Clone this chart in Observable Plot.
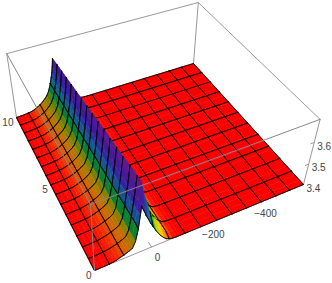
<!DOCTYPE html>
<html><head><meta charset="utf-8">
<script src="https://cdn.jsdelivr.net/npm/d3@7"></script>
<script src="https://cdn.jsdelivr.net/npm/@observablehq/plot@0.6"></script>
<style>html,body{margin:0;padding:0;background:#fff}svg{display:block}</style>
</head><body><div id="chart"></div>
<script>
// Columns of the surface (x axis, descending from the near corner)
const xRidge = [190,175,159,142,128,117,105,94,82,74,65,55,46,40,36,32,28,24,21,13,5,-3,-14,-29,-41,-51,-61,-72,-87,-99];
const xFlat = [-118,-176,-234,-292,-349,-407,-465,-522,-580];
const xMesh = [190,142,94,46,-3,-61,-118,-176,-234,-292,-349,-407,-465,-522,-580];
// Rows of the surface (y axis)
const yRows = [0,0.3,0.625,0.91,1.25,1.82,1.875,2.5,2.73,3.125,3.64,3.75,4.375,4.55,5,5.45,5.625,6.25,6.36,6.875,7.27,7.5,8.125,8.18,8.75,9.09,9.375,10];
const rowBlend = [0,0,0.03,0.06,0.1,0.157,0.16,0.227,0.25,0.29,0.34,0.356,0.42,0.44,0.484,0.53,0.55,0.61,0.625,0.68,0.72,0.74,0.807,0.81,0.87,0.906,0.936,1];
// Mesh lines along x: left of the ridge and on the plane beyond it
const yMeshLeft = [0,0.625,1.25,1.875,2.5,3.125,3.75,4.375,5,5.625,6.25,6.875,7.5,8.125,8.75,9.375,10];
const yMeshRight = [0,0.91,1.82,2.73,3.64,4.55,5.45,6.36,7.27,8.18,9.09,10];
const meshSplitX = -29;
// Heights read along the ridge
const zEdge = [3.4,3.4003,3.4006,3.4015,3.4036,3.4066,3.412,3.4165,3.4225,3.427,3.433,3.46,3.514,3.574,3.613,3.598,3.586,3.574,3.562,3.541,3.517,3.499,3.472,3.442,3.424,3.412,3.406,3.4015,3.4,3.4];
const zNear = [3.4,3.4003,3.4009,3.4024,3.4048,3.4078,3.412,3.4165,3.4225,3.427,3.4345,3.46,3.52,3.574,3.61,3.652,3.691,3.664,3.64,3.61,3.574,3.541,3.508,3.478,3.451,3.43,3.418,3.406,3.401,3.4];
const zFar = [3.4,3.4006,3.4018,3.4042,3.4072,3.412,3.4195,3.427,3.439,3.448,3.46,3.481,3.514,3.541,3.562,3.589,3.625,3.598,3.58,3.55,3.523,3.502,3.472,3.442,3.424,3.415,3.4075,3.4024,3.4003,3.4];
const zBase = 3.4;
// Box ranges
const xRange = [190,-580], yRange = [0,10], zRange = [3.4,3.7];
// Tick labels
const xTicks = [0,-200,-400];
const yTicks = [0,5,10];
const zTicks = [3.4,3.5,3.6];
// Colours by height
const hueHeights = [3.4,3.408,3.42,3.44,3.466,3.49,3.52,3.55,3.595,3.655,3.7];
const litColors = ["#ff0000","#f42800","#d86000","#a87c00","#5f8400","#0a8030","#0a7078","#1a4a98","#3a1aa0","#5a1a90","#6a1a88"];
const sunColors = ["#ff0000","#ff3a00","#ff8000","#ffc000","#ffe000","#70c800","#00a050","#0a8090","#2040a0","#4020a0","#5020a0"];

// Camera: fixed perspective of the box
function project(x, y, z) {
  const u = (xRange[0]-x)/(xRange[0]-xRange[1]);
  const v = y/yRange[1];
  const w = (z-zRange[0])/(zRange[1]-zRange[0]);
  const d = 0.14388*u + 0.27021*v - 0.1*w + 1;
  return [(252.6*u - 73.68*v - 13*w + 94)/d, (-59.53*u - 121.39*v - 86.4*w + 270)/d];
}
const xs = [...xRidge, ...xFlat];
const zAt = (j,i) => {
  if (i >= xRidge.length) return zBase;
  if (j === 0) return zEdge[i];
  return zNear[i] + (zFar[i]-zNear[i])*rowBlend[j];
};
const litScale = d3.scaleLinear().domain(hueHeights).range(litColors).clamp(true);
const sunScale = d3.scaleLinear().domain(hueHeights).range(sunColors).clamp(true);

const pieces = [];
let id = 0;
function addPiece(pts, fill, stroke, sw) {
  id++;
  for (const [x,y,z] of pts) {
    const [px,py] = project(x,y,z);
    pieces.push({id, px, py, fill, stroke, sw});
  }
}
for (let j = yRows.length-2; j >= 0; j--) {
  for (let i = xs.length-2; i >= 0; i--) {
    const a=[xs[i],yRows[j],zAt(j,i)], b=[xs[i+1],yRows[j],zAt(j,i+1)],
          c=[xs[i+1],yRows[j+1],zAt(j+1,i+1)], e=[xs[i],yRows[j+1],zAt(j+1,i)];
    const mean=(a[2]+b[2]+c[2]+e[2])/4;
    const falling = (b[2]+c[2])<(a[2]+e[2])-1e-6;
    const col = falling ? sunScale(mean) : litScale(mean);
    addPiece([a,b,c,e], col, col, 0.5);
    const mk="#000";
    const yMesh = xs[i] > meshSplitX ? yMeshLeft : yMeshRight;
    if (yMesh.includes(yRows[j])) addPiece([a,b],"none",mk,0.6);
    if (yMesh.includes(yRows[j+1])) addPiece([e,c],"none",mk,0.6);
    if (xMesh.includes(xs[i])) addPiece([a,e],"none",mk,0.6);
    if (xMesh.includes(xs[i+1])) addPiece([b,c],"none",mk,0.6);
  }
}
const [x0,x1]=xRange,[y0,y1]=yRange,[z0,z1]=zRange;
const backEdges=[[[x0,y1,z0],[x0,y1,z1]],[[x0,y1,z1],[x1,y1,z1]],[[x1,y1,z1],[x1,y0,z1]],[[x1,y1,z0],[x1,y1,z1]],[[x1,y0,z0],[x1,y0,z1]],
  [[x0,y0,z0],[x1,y0,z0]],[[x0,y0,z0],[x0,y1,z0]],
  ...xTicks.map(t=>[[t,y0,z0],[t,0.25,z0]]),
  ...zTicks.slice(1).map(t=>[[x1,y0,t],[x1+14,y0,t]])];
const frontEdges=[[[x0,y0,z0],[x0,y0,z1]],[[x0,y0,z1],[x0,y1,z1]],[[x0,y0,z1],[x1,y0,z1]]];
const toSeg=(list)=>list.flatMap((s,k)=>s.map(p=>{const [px,py]=project(...p);return {k,px,py};}));
const pt=(a,lab)=>{const [px,py]=project(...a);return {px,py,lab};};
const fmt=d=>String(d).replace("-","\u2212");
const textOpts={x:"px",y:"py",text:"lab",fontFamily:"Liberation Sans",fontSize:10,fill:"#444"};

const chart = Plot.plot({
  width:332,height:283,margin:0,
  x:{domain:[0,332],axis:null},
  y:{domain:[283,0],axis:null},
  style:{background:"#fff"},
  marks:[
    Plot.line(toSeg(backEdges),{x:"px",y:"py",z:"k",stroke:"#999",strokeWidth:1}),
    Plot.line(pieces,{x:"px",y:"py",z:"id",fill:"fill",stroke:"stroke",strokeWidth:"sw",curve:"linear-closed"}),
    Plot.line(toSeg(frontEdges),{x:"px",y:"py",z:"k",stroke:"#888",strokeWidth:1}),
    Plot.text(xTicks.map(t=>pt([t,y0,z0],fmt(t))),{...textOpts,dx:6,dy:11}),
    Plot.text(yTicks.map(t=>pt([x0,t,z0],String(t))),{...textOpts,textAnchor:"end",dx:-3,dy:5}),
    Plot.text(zTicks.map(t=>pt([x1,y0,t],String(t))),{...textOpts,textAnchor:"start",dx:3,dy:4})
  ]
});
document.getElementById("chart").append(chart);
</script></body></html>
